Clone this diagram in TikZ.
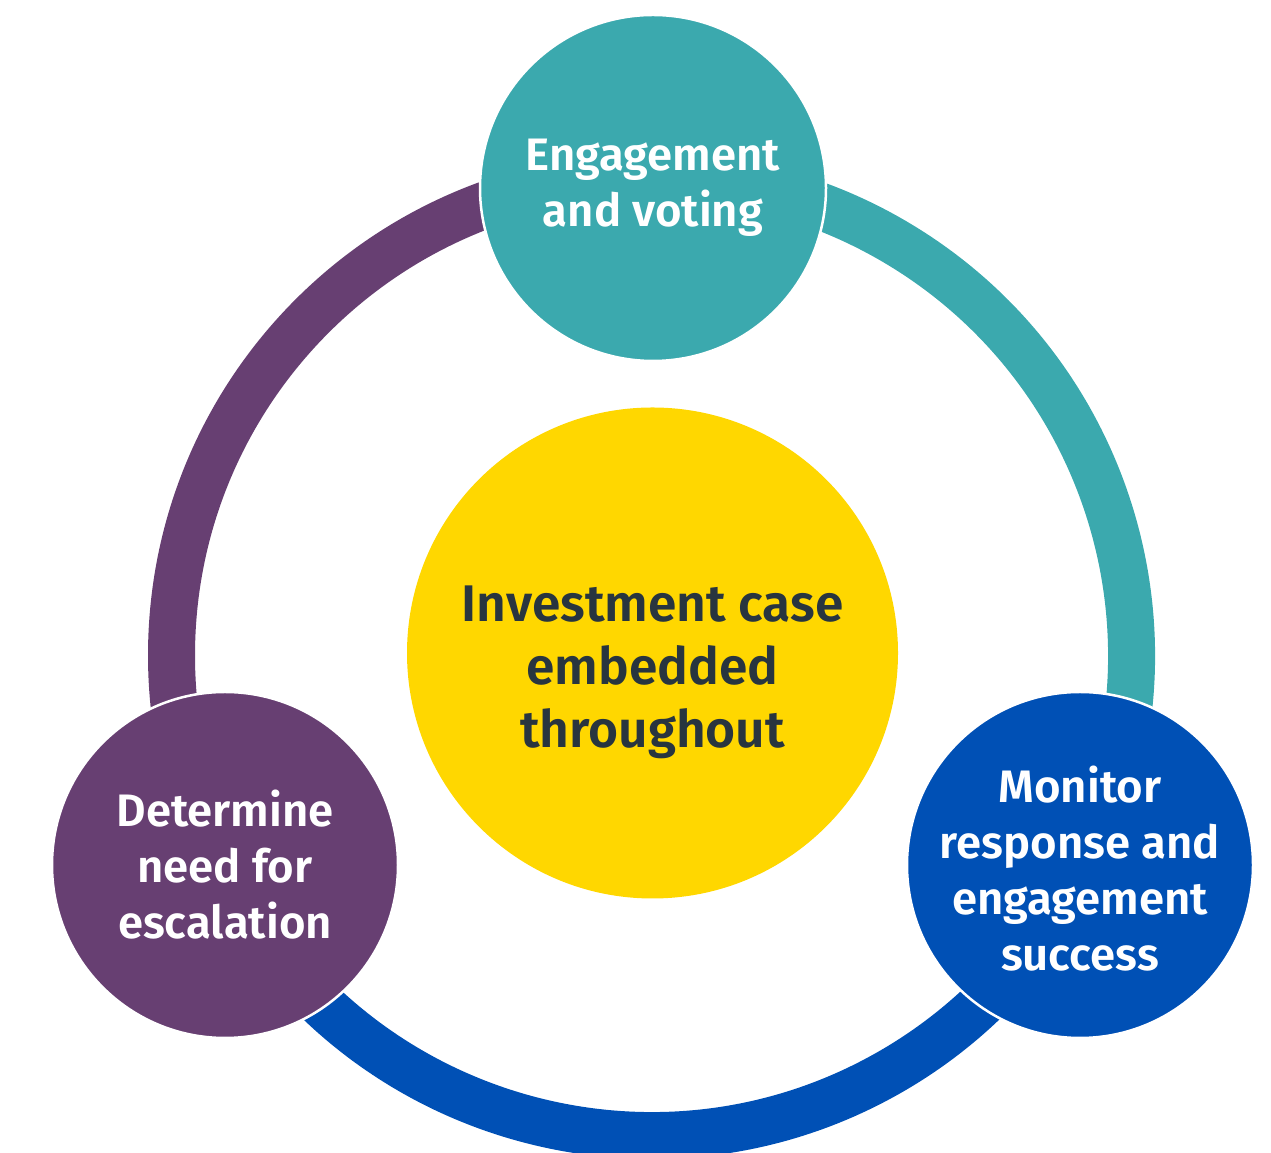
\documentclass[tikz,border=0pt]{standalone}
\usepackage{fontspec}
\setmainfont{Fira Sans}[BoldFont={Fira Sans SemiBold}]
\definecolor{esgteal}{HTML}{3BA9AE}
\definecolor{esgpurple}{HTML}{673F72}
\definecolor{esgblue}{HTML}{0050B5}
\definecolor{esgyellow}{HTML}{FFD700}
\definecolor{esgtext}{HTML}{28353F}
\begin{document}
\begin{tikzpicture}[
 x=1pt,y=1pt,
 band/.style={line width=47pt},
 stage/.style={circle,minimum size=346pt,inner sep=0pt,draw=white,line width=2.5pt},
 txt/.style={text=white,align=center,font=\bfseries\fontsize{45.5}{56}\selectfont}]
 \useasboundingbox (0,0) rectangle (1271,1153);
 % Ring in three coloured arcs.
 \coordinate (o) at (651.5,497.5);
 \draw[band,esgpurple] ([shift={(90:480)}]o) arc[start angle=90,end angle=210,radius=480];
 \draw[band,esgblue] ([shift={(210:480)}]o) arc[start angle=210,end angle=330,radius=480];
 \draw[band,esgteal] ([shift={(330:480)}]o) arc[start angle=330,end angle=450,radius=480];
 % Centre disc.
 \node[circle,fill=esgyellow,minimum size=491pt,inner sep=0pt] (core) at (652.5,500) {};
 \node[txt,text=esgtext,font=\bfseries\fontsize{51.5}{63}\selectfont] (coretxt)
  at ([yshift=-19pt]core.center) {Investment case\\embedded\\throughout};
 % Stages on the ring.
 \node[stage,fill=esgteal] (engage) at (653,965) {};
 \node[stage,fill=esgpurple] (escalate) at (225,288) {};
 \node[stage,fill=esgblue] (monitor) at (1080,288) {};
 \node[txt] (engagetxt) at (engage) {Engagement\\and voting};
 \node[txt] (escalatetxt) at (escalate) {Determine\\need for\\escalation};
 \node[txt] (monitortxt) at ([yshift=-4pt]monitor.center) {Monitor\\response and\\engagement\\success};
\end{tikzpicture}
\end{document}
